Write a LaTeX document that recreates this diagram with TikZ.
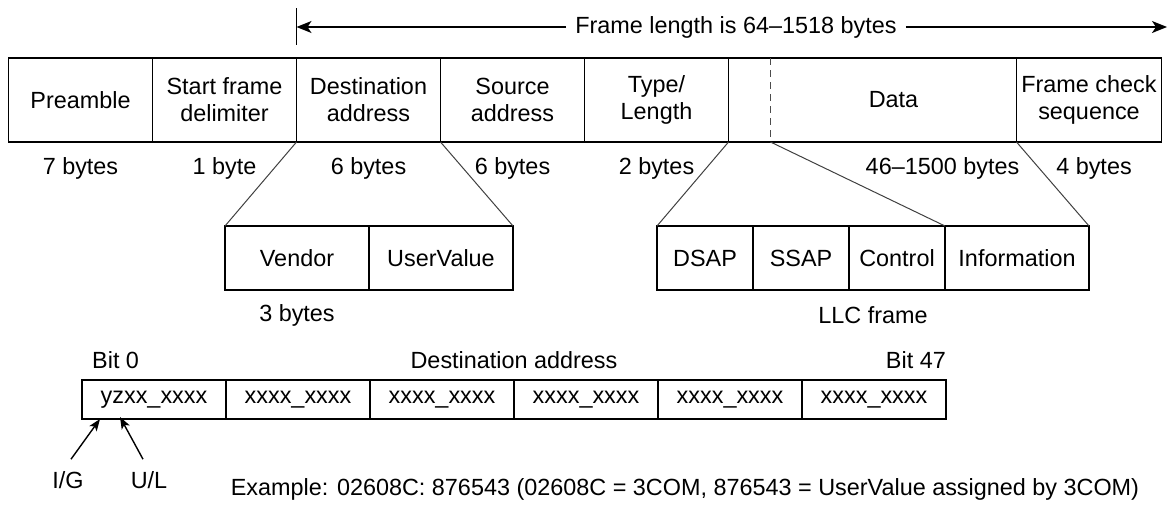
\documentclass[tikz,border=0pt]{standalone}
\usepackage{fontspec}
\setmainfont{Liberation Sans}
\usetikzlibrary{positioning,arrows.meta,calc}

\begin{document}
\begin{tikzpicture}[
x=1pt, y=-1pt,
node distance=0pt,
every node/.style={font=\fontsize{23.4}{27}\selectfont},
field/.style={draw, line width=1.8pt, minimum width=144pt, minimum height=84pt, align=center, inner sep=0pt, outer sep=0pt},
subfield/.style={field, minimum height=64pt},
bitfield/.style={field, minimum height=39pt},
bytes/.style={inner sep=0pt},
fan/.style={line width=1pt, black!75},
span/.style={-{Stealth[length=15pt, width=12pt, inset=4pt]}, line width=1.6pt},
pointer/.style={-{Stealth[length=12pt, width=9pt, inset=3pt]}, line width=1.4pt}
]
\useasboundingbox (0,0) rectangle (1169,512);

% Ethernet frame
\node[field] (pre) at (80.5,100) {Preamble};
\node[field, right=of pre] (sfd) {Start frame\\delimiter};
\node[field, right=of sfd] (dst) {Destination\\address};
\node[field, right=of dst] (src) {Source\\address};
\node[field, right=of src] (type) {Type/\\Length};
\node[field, minimum width=288pt, right=of type] (data) {\hspace*{42pt}Data};
\node[field, minimum width=145pt, right=of data] (fcs) {Frame check\\sequence};
\coordinate (split) at ([xshift=42pt]data.north west);
\draw[line width=1.4pt, black!70, dash pattern=on 7pt off 5pt] (split) -- (split |- data.south);

% sizes
\node[bytes] (preb) at ([yshift=-26pt]pre.south) {7 bytes};
\node[bytes] (sfdb) at ([yshift=-26pt]sfd.south) {1 byte};
\node[bytes] (dstb) at ([yshift=-26pt]dst.south) {6 bytes};
\node[bytes] (srcb) at ([yshift=-26pt]src.south) {6 bytes};
\node[bytes] (typeb) at ([yshift=-26pt]type.south) {2 bytes};
\node[bytes] (datab) at ([xshift=70pt,yshift=-26pt]data.south) {46--1500 bytes};
\node[bytes] (fcsb) at ([xshift=5pt,yshift=-26pt]fcs.south) {4 bytes};

% frame length
\node[inner sep=9pt] (flen) at (736,27) {Frame length is 64--1518 bytes};
\coordinate (tickt) at ([yshift=50pt]dst.north west);
\coordinate (tickb) at ([yshift=13pt]dst.north west);
\coordinate (spanend) at (1167,27);
\draw[line width=1.6pt] (tickt) -- (tickb);
\draw[span] (flen.west) -- (flen.west -| tickt);
\draw[span] (flen.east) -- (spanend);

% address split
\node[subfield] (vendor) at (297,258) {Vendor};
\node[subfield, right=of vendor] (uval) {UserValue};
\node[bytes] (vendb) at ([yshift=-25pt]vendor.south) {3 bytes};

% LLC frame
\node[subfield, minimum width=96pt] (dsap) at (705,258) {DSAP};
\node[subfield, minimum width=96pt, right=of dsap] (ssap) {SSAP};
\node[subfield, minimum width=96pt, right=of ssap] (ctrl) {Control};
\node[subfield, right=of ctrl] (info) {Information};
\node[bytes] (llc) at ($(dsap.south west)!0.5!(info.south east)+(0,-25pt)$) {LLC frame};

\draw[fan] (dst.south west) -- (vendor.north west);
\draw[fan] (dst.south east) -- (uval.north east);
\draw[fan] (type.south east) -- (dsap.north west);
\draw[fan] (split |- data.south) -- (info.north west);
\draw[fan] (data.south east) -- (info.north east);

% destination address bits
\node[bitfield] (b0) at (154,399.5) {yzxx\_xxxx};
\foreach \i [remember=\i as \j (initially 0)] in {1,...,5}
  \node[bitfield, right=of b\j] (b\i) {xxxx\_xxxx};
\node[bytes, anchor=west] (bit0) at ([xshift=10pt,yshift=20pt]b0.north west) {Bit 0};
\node[bytes, anchor=east] (bit47) at ([yshift=20pt]b5.north east) {Bit 47};
\node[bytes] (dstrow) at ($(b0.north west)!0.5!(b5.north east)+(0,20pt)$) {Destination address};

\coordinate (igtip) at ([xshift=18pt]b0.south west);
\coordinate (ultip) at ([xshift=38pt,yshift=2pt]b0.south west);
\node[bytes] (ig) at (68,480) {I/G};
\node[bytes] (ul) at (149,480) {U/L};
\draw[pointer] ([xshift=3pt,yshift=12pt]ig.north) -- (igtip);
\draw[pointer] ([xshift=-6pt,yshift=12pt]ul.north) -- (ultip);

\node[bytes] (example) at (685,489) {Example: 02608C: 876543 (02608C = 3COM, 876543 = UserValue assigned by 3COM)};
\end{tikzpicture}
\end{document}
